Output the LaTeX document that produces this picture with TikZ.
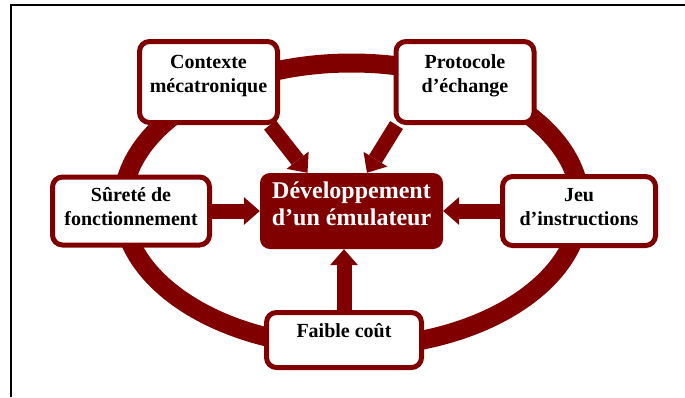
\documentclass[tikz,border=0pt]{standalone}
\usepackage{fontspec}
\setmainfont{Liberation Serif}
\usepackage{tikz}
\usetikzlibrary{positioning}
\usetikzlibrary{arrows.meta}
\usetikzlibrary{backgrounds}
\definecolor{emured}{RGB}{128,0,0}
\tikzstyle{sidebox} = [rectangle, rounded corners=10pt, line width=5pt, draw=emured, fill=white, align=center, font=\fontsize{20}{24}\selectfont\bfseries, text height=38pt]
\tikzstyle{mainbox} = [rectangle, rounded corners=10pt, draw=none, fill=emured, text=white, align=center, font=\fontsize{24}{27}\selectfont\bfseries, text height=44pt]
\tikzstyle{bigarrow} = [draw=emured, line width=15pt, -{Triangle[width=28pt,length=16pt,line width=0pt]}]
\tikzstyle{ring} = [draw=emured, line width=19pt]

\begin{document}
\begin{tikzpicture}[x=1pt, y=-1pt, node distance=129pt]
    \useasboundingbox (0,0) rectangle (685,397);
    \draw [line width=2pt] (685,5) -- (11,5) -- (11,397);

    \node (dev) [mainbox, minimum width=183pt, minimum height=76pt, text depth=15pt] at (351.5,211) {Développement\\d’un émulateur};
    \node (ctx) [sidebox, above of=dev, xshift=-143pt, minimum width=138pt, minimum height=81pt, text depth=18pt] {Contexte\\mécatronique};
    \node (proto) [sidebox, above of=dev, xshift=113.5pt, minimum width=138pt, minimum height=81pt, text depth=18pt] {Protocole\\d’échange};
    \node (sur) [sidebox, left of=dev, xshift=-91.5pt, minimum width=157pt, minimum height=68pt, text depth=9pt] {Sûreté de\\fonctionnement};
    \node (jeu) [sidebox, right of=dev, xshift=98.5pt, minimum width=153pt, minimum height=69pt, text depth=10pt] {Jeu\\d’instructions};
    \node (cout) [sidebox, below of=dev, xshift=-7.5pt, minimum width=155pt, minimum height=55pt, text height=14pt, text depth=18.6pt] {Faible coût};

    \begin{pgfonlayer}{background}
        \draw [ring] ([yshift=6pt]dev.center) ellipse [x radius=229pt, y radius=142pt];
        \draw [bigarrow] ([xshift=-10pt]ctx.south east) -- ([xshift=-44pt]dev.north);
        \draw [bigarrow] ([xshift=3pt]proto.south west) -- ([xshift=15.5pt]dev.north);
        \draw [bigarrow] (sur) -- (dev);
        \draw [bigarrow] (jeu) -- (dev);
        \draw [bigarrow] (cout.north) -- (cout.north |- dev.south);
    \end{pgfonlayer}
\end{tikzpicture}
\end{document}
